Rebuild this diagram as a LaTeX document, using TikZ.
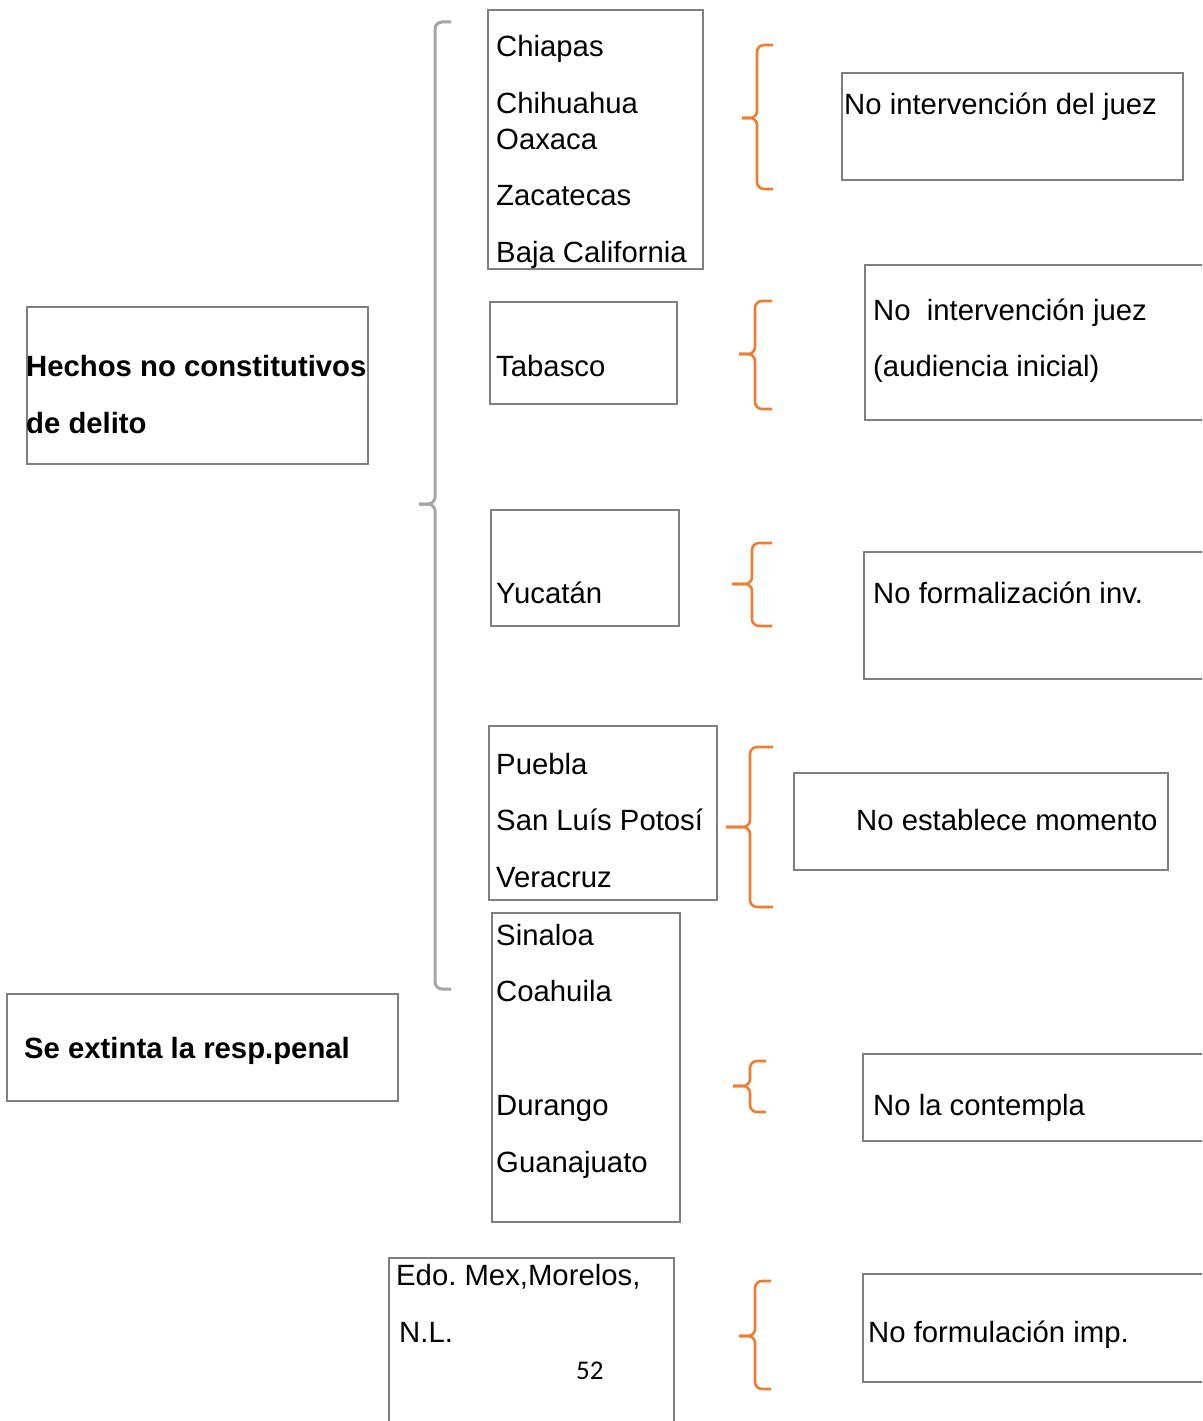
\documentclass[tikz,border=0pt]{standalone}
\usepackage{fontspec}
\setmainfont{Liberation Sans}
\newfontfamily\pagenumfont{Carlito}
\frenchspacing
\definecolor{boxgrey}{HTML}{7F7F7F}
\definecolor{bracegrey}{HTML}{A5A5A5}
\definecolor{braceorange}{HTML}{ED7D31}
\tikzset{
  box/.style={draw=boxgrey, line width=2.2pt, inner sep=0pt, anchor=north west},
  lbl/.style={inner sep=0pt, anchor=base west, font=\fontsize{29.3}{35}\selectfont},
  blbl/.style={lbl, font=\fontsize{29.3}{35}\selectfont\bfseries},
  gbrace/.style={draw=bracegrey, line width=3pt, rounded corners=7pt},
  obrace/.style={draw=braceorange, line width=2.6pt, rounded corners=7pt}
}
\begin{document}
\begin{tikzpicture}[x=1pt,y=-1pt]
\clip (0,0) rectangle (1202,1421);
% left column
\node[box, minimum width=341, minimum height=157] (hechos) at (26,306) {};
\node[blbl] (t-hechos1) at (26,376) {Hechos no constitutivos};
\node[blbl] (t-hechos2) at (26,433) {de delito};
\node[box, minimum width=391, minimum height=107] (extinta) at (6,993) {};
\node[blbl] (t-extinta) at (24,1058) {Se extinta la resp.penal};
% big grey brace
\draw[gbrace] (451,22) -| (435,504) -- (419,504);
\draw[gbrace] (419,504) -- (435,504) |- (451,989);
% states
\node[box, minimum width=215, minimum height=259] (chiapas) at (487,9) {};
\node[lbl] (t-chiapas) at (496,57) {Chiapas};
\node[lbl] (t-chihuahua) at (496,113) {Chihuahua};
\node[lbl] (t-oaxaca) at (496,149) {Oaxaca};
\node[lbl] (t-zacatecas) at (496,205) {Zacatecas};
\node[lbl] (t-baja) at (496,262) {Baja California};
\node[box, minimum width=187, minimum height=102] (tabasco) at (489,301) {};
\node[lbl] (t-tabasco) at (496,376) {Tabasco};
\node[box, minimum width=188, minimum height=116] (yucatan) at (490,509) {};
\node[lbl] (t-yucatan) at (496,603) {Yucatán};
\node[box, minimum width=228, minimum height=174] (puebla) at (488,725) {};
\node[lbl] (t-puebla) at (496,774) {Puebla};
\node[lbl] (t-slp) at (496,830) {San Luís Potosí};
\node[lbl] (t-veracruz) at (496,887) {Veracruz};
\node[box, minimum width=188, minimum height=309] (sinaloa) at (491,912) {};
\node[lbl] (t-sinaloa) at (496,945) {Sinaloa};
\node[lbl] (t-coahuila) at (496,1001) {Coahuila};
\node[lbl] (t-durango) at (496,1115) {Durango};
\node[lbl] (t-guanajuato) at (496,1172) {Guanajuato};
\node[box, minimum width=285, minimum height=183] (edomex) at (388,1257) {};
\node[lbl] (t-edomex) at (396,1285) {Edo.\ Mex,Morelos,};
\node[lbl] (t-nl) at (399,1342) {N.L.};
\node[inner sep=0pt, anchor=base west, font=\pagenumfont\fontsize{27}{32}\selectfont] (pagenum) at (576,1379) {52};
% orange braces
\draw[obrace] (773,45) -| (757,118) -- (742,118);
\draw[obrace] (742,118) -- (757,118) |- (773,189);
\draw[obrace] (772,301) -| (755,354) -- (739,354);
\draw[obrace] (739,354) -- (755,354) |- (772,409);
\draw[obrace] (772,543) -| (752,584) -- (732,584);
\draw[obrace] (732,584) -- (752,584) |- (772,626);
\draw[obrace] (773,747) -| (750,827) -- (726,827);
\draw[obrace] (726,827) -- (750,827) |- (773,907);
\draw[obrace] (766,1061) -| (750,1086) -- (733,1086);
\draw[obrace] (733,1086) -- (750,1086) |- (766,1112);
\draw[obrace] (771,1281) -| (755,1336) -- (739,1336);
\draw[obrace] (739,1336) -- (755,1336) |- (771,1389);
% right column
\node[box, minimum width=341, minimum height=107] (juez) at (841,72) {};
\node[lbl] (t-juez) at (844,114) {No intervención del juez};
\node[box, minimum width=356, minimum height=155] (audiencia) at (864,264) {};
\node[lbl] (t-audiencia1) at (873,320) {No\ \ intervención juez};
\node[lbl] (t-audiencia2) at (873,376) {(audiencia inicial)};
\node[box, minimum width=357, minimum height=127] (formal) at (863,551) {};
\node[lbl] (t-formal) at (873,603) {No formalización inv.};
\node[box, minimum width=374, minimum height=97] (momento) at (793,772) {};
\node[lbl] (t-momento) at (856,830) {No establece momento};
\node[box, minimum width=358, minimum height=87] (contempla) at (862,1053) {};
\node[lbl] (t-contempla) at (873,1115) {No la contempla};
\node[box, minimum width=358, minimum height=108] (formul) at (862,1273) {};
\node[lbl] (t-formul) at (868,1342) {No formulación imp.};
\end{tikzpicture}
\end{document}
